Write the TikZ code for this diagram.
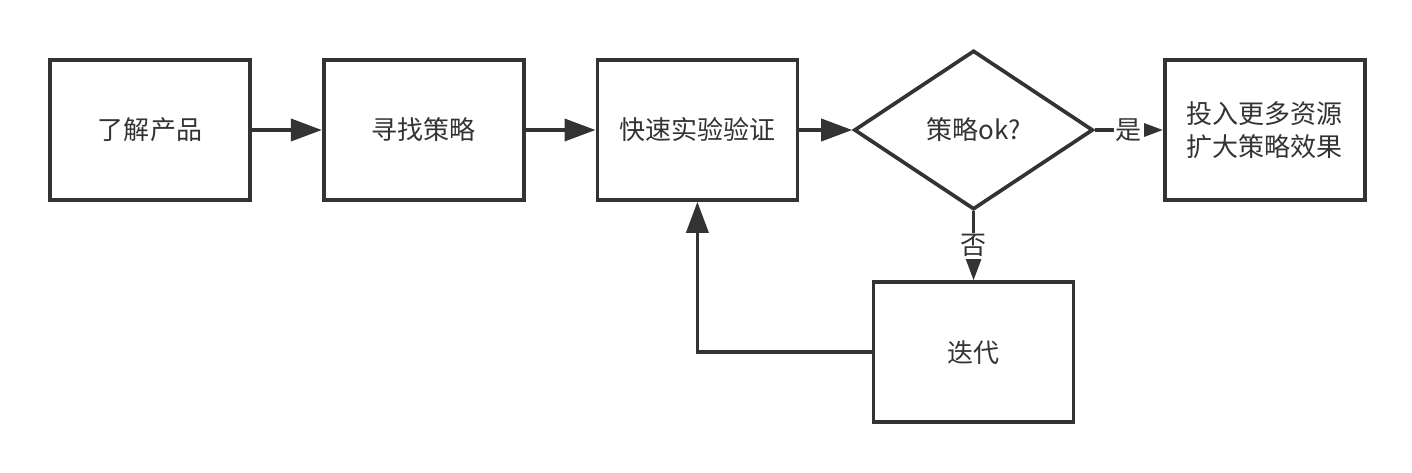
\documentclass[tikz,border=0pt]{standalone}
\usepackage{fontspec}
\setmainfont{Noto Sans CJK SC}
\usetikzlibrary{arrows.meta,positioning,shapes.geometric}
\definecolor{ink}{HTML}{333333}

\begin{document}
\begin{tikzpicture}[
  font=\fontsize{14.8pt}{18.8pt}\selectfont,
  node distance=1.4cm and 1.4cm,
  box/.style={draw=ink, line width=2.1pt, text=ink, minimum width=4cm, minimum height=2.8cm, inner sep=2pt, align=center},
  decision/.style={diamond, draw=ink, line width=2.1pt, text=ink, aspect=1.5, minimum width=4.78cm, minimum height=3.18cm, inner sep=0pt},
  arrow/.style={-{Triangle[length=6.2mm, width=4.4mm]}, draw=ink, line width=2.1pt},
  lbl/.style={fill=white, text=ink, inner sep=1pt},
]
\useasboundingbox (0,0) rectangle (28.24,-9.44);
\node[box] (know) at (3,-2.6) {了解产品};
\node[box, right=of know] (find) {寻找策略};
\node[box, right=of find] (fast) {快速实验验证};
\node[decision, right=1.06cm of fast] (ok) {策略ok?};
\node[box, right=1.36cm of ok] (more) {投入更多资源\\扩大策略效果};
\node[box, below=1.38cm of ok] (iter) {迭代};
\draw[arrow] (know) -- (find);
\draw[arrow] (find) -- (fast);
\draw[arrow] (fast) -- (ok);
\draw[arrow] (ok) -- node[lbl] {是} (more);
\draw[arrow] (ok) -- node[lbl] {否} (iter);
\draw[arrow] (iter.west) -| (fast.south);
\end{tikzpicture}
\end{document}
